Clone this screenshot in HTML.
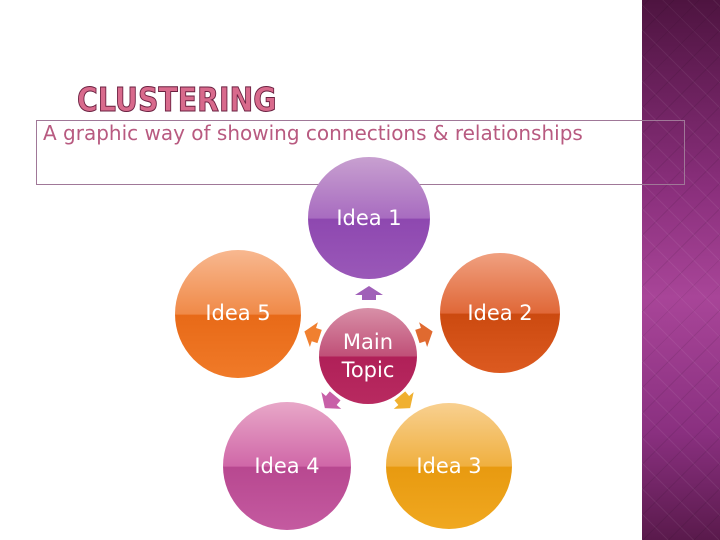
<!DOCTYPE html>
<html><head><style>
body{margin:0;width:720px;height:540px;overflow:hidden;background:#fff;position:relative;font-family:"DejaVu Sans","Liberation Sans",sans-serif}
.panel{position:absolute;left:642px;top:0;width:78px;height:540px;background:linear-gradient(#4e1440 0%,#8a2f7c 35%,#a84598 55%,#8a3080 80%,#5a1a4c 100%)}
.panel:after{content:"";position:absolute;inset:0;background:repeating-linear-gradient(45deg,rgba(255,255,255,.06) 0 1px,transparent 1px 18px),repeating-linear-gradient(-45deg,rgba(0,0,0,.08) 0 1px,transparent 1px 18px)}
.title{position:absolute;left:77px;top:80px;font-size:33px;font-weight:bold;color:#d86a8c;-webkit-text-stroke:1px #6a2040;letter-spacing:0px;transform:scaleX(.86);transform-origin:left}
.box{position:absolute;left:36px;top:120px;width:647px;height:63px;border:1px solid #a07898}
.sub{position:absolute;left:43px;top:121px;font-size:20px;color:#b85a80;white-space:nowrap}
.c{position:absolute;border-radius:50%;color:#fff;text-align:center;font-size:21px;display:flex;align-items:center;justify-content:center}
</style></head><body>
<div class="panel"></div>
<div class="title">CLUSTERING</div>
<div class="box"></div>
<div class="sub">A graphic way of showing connections &amp; relationships</div>
<div class="c" style="left:308px;top:157px;width:122px;height:122px;background:linear-gradient(#c8a0d0 0%,#a86cc0 50%,#8e48b0 51%,#9a58b8 100%)">Idea 1</div>
<div class="c" style="left:175px;top:250px;width:126px;height:126px;background:linear-gradient(#f8b890 0%,#f08a48 50%,#e86a18 51%,#f07a28 100%);padding-bottom:2px">Idea 5</div>
<div class="c" style="left:440px;top:253px;width:120px;height:120px;background:linear-gradient(#f0a080 0%,#e06838 50%,#cc4a10 51%,#dc5a20 100%)">Idea 2</div>
<div class="c" style="left:223px;top:402px;width:128px;height:128px;background:linear-gradient(#e8a8c8 0%,#d068a8 50%,#b84890 51%,#c45aa0 100%)">Idea 4</div>
<div class="c" style="left:386px;top:403px;width:126px;height:126px;background:linear-gradient(#f8d090 0%,#f0b040 50%,#e89a10 51%,#f0a820 100%)">Idea 3</div>
<div class="c" style="left:319px;top:308px;width:98px;height:96px;background:linear-gradient(#d890a8 0%,#c05078 50%,#b02058 51%,#b82a60 100%);line-height:28px">Main<br>Topic</div>
<svg width="720" height="540" style="position:absolute;left:0;top:0">
<g transform="translate(369,293)"><polygon points="0,-7 14,2 7,2 7,7 -7,7 -7,2 -14,2" fill="#a060b8"/></g>
<g transform="translate(312,334) rotate(-72)"><polygon points="0,-8 13,2 7,2 7,8 -7,8 -7,2 -13,2" fill="#f08030"/></g>
<g transform="translate(425,334) rotate(72)"><polygon points="0,-8 13,2 7,2 7,8 -7,8 -7,2 -13,2" fill="#e06a30"/></g>
<g transform="translate(330,402) rotate(-140)"><polygon points="0,-8 13,2 7,2 7,8 -7,8 -7,2 -13,2" fill="#c860a8"/></g>
<g transform="translate(405,402) rotate(140)"><polygon points="0,-8 13,2 7,2 7,8 -7,8 -7,2 -13,2" fill="#f0b030"/></g>
</svg>
</body></html>
